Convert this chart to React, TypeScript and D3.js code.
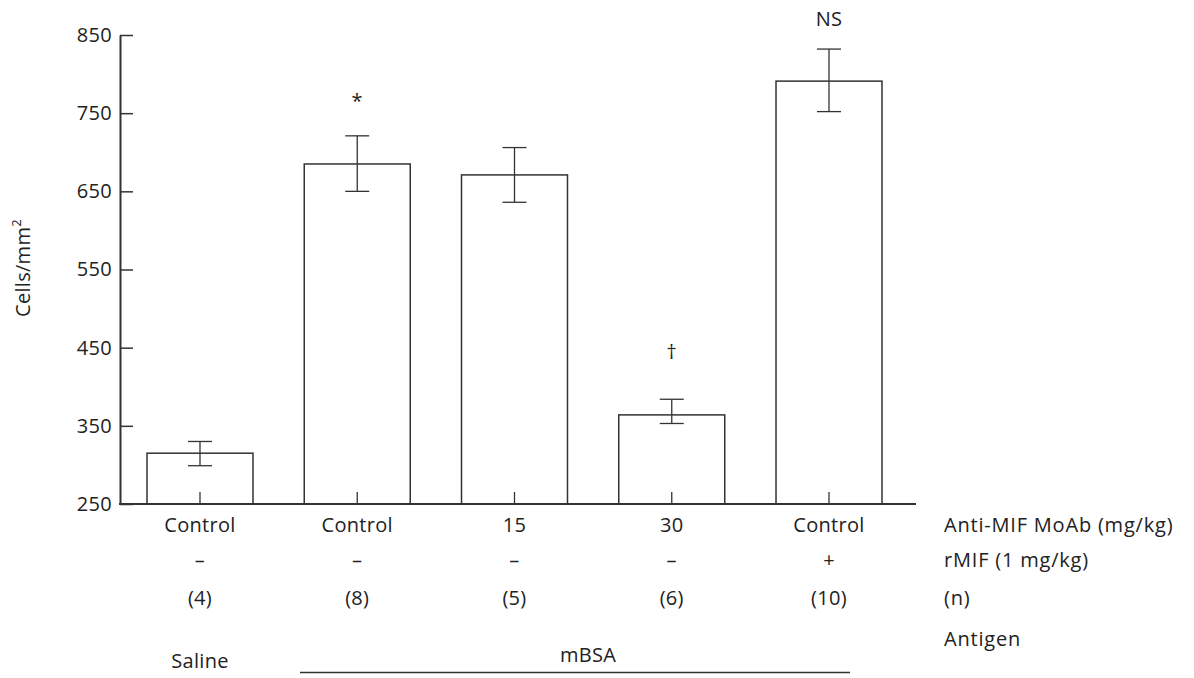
import React, { useEffect, useRef } from "react";
import * as d3 from "d3";

// values
const antiMif = ["Control", "Control", "15", "30", "Control"];
const rMif = ["–", "–", "–", "–", "+"];
const nCounts = ["(4)", "(8)", "(5)", "(6)", "(10)"];
const means = [315, 685, 671, 364, 791];
const errHigh = [330, 721, 706, 384, 832];
const errLow = [299, 650, 636, 353, 752];
const marks = ["", "*", "", "†", "NS"];
const markLevel = [0, 757, 0, 436, 862];
const yTicks = [250, 350, 450, 550, 650, 750, 850];
const rowTitles = ["Anti-MIF MoAb (mg/kg)", "rMIF (1 mg/kg)", "(n)"];

const FONT = "'Open Sans', 'Noto Sans', sans-serif";
const FS = 20;
const INK = "#222";
const LINE = "#333";

const App = () => {
  const ref = useRef<SVGSVGElement | null>(null);

  useEffect(() => {
    const svg = d3.select(ref.current);
    svg.selectAll("*").remove();

    const idx = means.map((_, i) => String(i));

    const y = d3.scaleLinear().domain([250, 850]).range([504, 35]);
    const x = d3
      .scaleBand()
      .domain(idx)
      .range([147, 882])
      .paddingInner(0.326)
      .paddingOuter(0);

    const axisLeftX = 120;
    const axisRightX = 916;

    const txt = (sel: any, ls = 0.3) =>
      sel
        .attr("font-family", FONT)
        .attr("font-size", FS)
        .attr("letter-spacing", ls)
        .attr("fill", INK);

    // Y axis, ticks pointing inward
    const yAxis = svg
      .append("g")
      .attr("transform", `translate(${axisLeftX},0)`)
      .call(
        d3
          .axisLeft(y)
          .tickValues(yTicks)
          .tickSize(-13)
          .tickSizeOuter(0)
          .tickPadding(8)
      );
    yAxis.select(".domain").attr("stroke", LINE).attr("stroke-width", 2);
    yAxis.selectAll(".tick line").attr("stroke", LINE).attr("stroke-width", 1.5);
    yAxis.selectAll(".tick text").call(txt);

    // Y title
    svg
      .append("text")
      .attr("transform", `translate(30,268) rotate(-90)`)
      .attr("text-anchor", "middle")
      .call(txt)
      .html("Cells/mm<tspan font-size='13' dy='-9'>2</tspan>");

    // Bars
    svg
      .selectAll(".bar")
      .data(means)
      .enter()
      .append("rect")
      .attr("class", "bar")
      .attr("x", (_, i) => x(String(i)) as number)
      .attr("y", (d) => y(d))
      .attr("width", x.bandwidth())
      .attr("height", (d) => y(250) - y(d))
      .attr("fill", "white")
      .attr("stroke", LINE)
      .attr("stroke-width", 1.5);

    const cx = (i: number) => (x(String(i)) as number) + x.bandwidth() / 2;

    // small centre ticks on the x axis
    svg
      .selectAll(".ctick")
      .data(means)
      .enter()
      .append("line")
      .attr("x1", (_, i) => cx(i))
      .attr("x2", (_, i) => cx(i))
      .attr("y1", y(250))
      .attr("y2", y(250) - 12)
      .attr("stroke", LINE)
      .attr("stroke-width", 1.3);

    // Error bars
    const err = svg.append("g").attr("stroke", LINE).attr("stroke-width", 1.3);
    means.forEach((_, i) => {
      const c = cx(i);
      err
        .append("line")
        .attr("x1", c)
        .attr("x2", c)
        .attr("y1", y(errHigh[i]))
        .attr("y2", y(errLow[i]));
      [errHigh[i], errLow[i]].forEach((v) => {
        err
          .append("line")
          .attr("x1", c - 12)
          .attr("x2", c + 12)
          .attr("y1", y(v))
          .attr("y2", y(v));
      });
    });

    // X axis line
    svg
      .append("line")
      .attr("x1", axisLeftX - 1)
      .attr("x2", axisRightX)
      .attr("y1", y(250))
      .attr("y2", y(250))
      .attr("stroke", LINE)
      .attr("stroke-width", 2);

    // significance marks
    marks.forEach((m, i) => {
      if (!m) return;
      svg
        .append("text")
        .attr("x", cx(i))
        .attr("y", y(markLevel[i]))
        .attr("text-anchor", "middle")
        .call(txt)
        .text(m);
    });

    // rows of labels under the axis
    const rows = [antiMif, rMif, nCounts];
    const rowY = [532, 567, 605];
    rows.forEach((row, r) => {
      svg
        .append("g")
        .selectAll("text")
        .data(row)
        .enter()
        .append("text")
        .attr("x", (_, i) => cx(i))
        .attr("y", rowY[r])
        .attr("text-anchor", "middle")
        .call(txt)
        .text((d) => d);
      svg
        .append("text")
        .attr("x", 944)
        .attr("y", rowY[r])
        .call(txt, 0.8)
        .text(rowTitles[r]);
    });

    // antigen row
    svg.append("text").attr("x", 944).attr("y", 646).call(txt, 0.8).text("Antigen");
    svg
      .append("text")
      .attr("x", cx(0))
      .attr("y", 668)
      .attr("text-anchor", "middle")
      .call(txt)
      .text("Saline");
    svg
      .append("text")
      .attr("x", 588)
      .attr("y", 662)
      .attr("text-anchor", "middle")
      .call(txt)
      .text("mBSA");
    svg
      .append("line")
      .attr("x1", 300)
      .attr("x2", 850)
      .attr("y1", 672.5)
      .attr("y2", 672.5)
      .attr("stroke", LINE)
      .attr("stroke-width", 1.5);
  }, []);

  return (
    <svg
      ref={ref}
      width={1194}
      height={678}
      style={{ position: "absolute", left: 0, top: 0, background: "white" }}
    />
  );
};

export default App;
